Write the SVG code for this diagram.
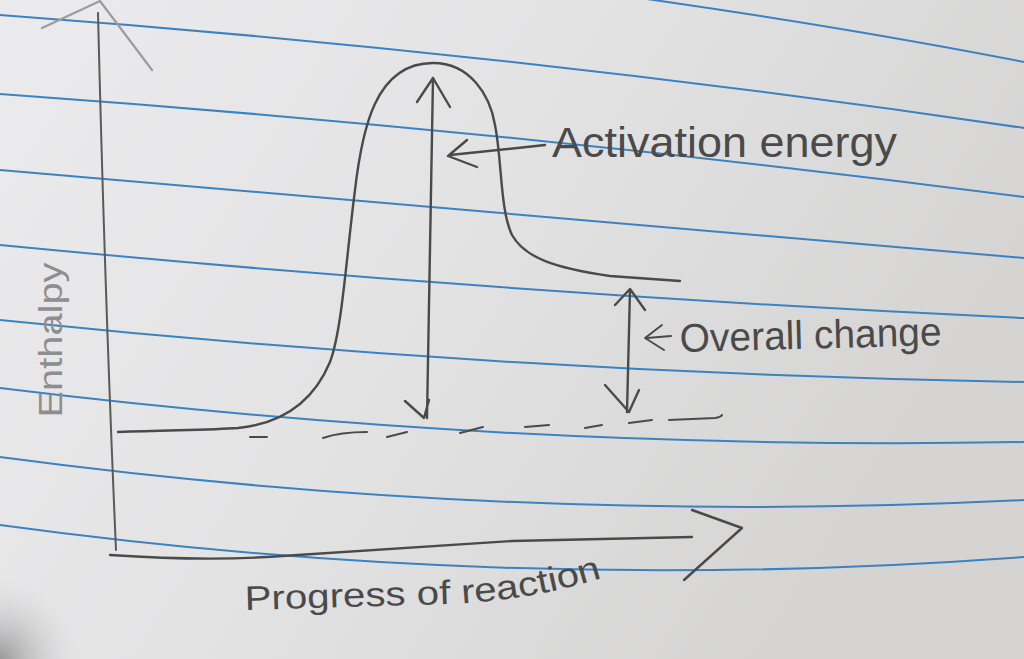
<svg xmlns="http://www.w3.org/2000/svg" width="1024" height="659" viewBox="0 0 1024 659">
<defs>
<linearGradient id="paper" x1="0" y1="0" x2="1" y2="0.4">
<stop offset="0" stop-color="#ebebed"/>
<stop offset="0.5" stop-color="#e3e3e4"/>
<stop offset="1" stop-color="#d5d4d3"/>
</linearGradient>
<radialGradient id="shadow" cx="0" cy="659" r="80" gradientUnits="userSpaceOnUse">
<stop offset="0" stop-color="#808081" stop-opacity="0.75"/>
<stop offset="0.5" stop-color="#a5a5a6" stop-opacity="0.35"/>
<stop offset="1" stop-color="#d0d0d0" stop-opacity="0"/>
</radialGradient>
<style>
.rule{fill:none;stroke:#3c82c2;stroke-width:2}
.pen{fill:none;stroke:#4a4a4a;stroke-width:2.4;stroke-linecap:round;stroke-linejoin:round}
.light{fill:none;stroke:#9c9c9e;stroke-width:2.2;stroke-linecap:round;stroke-linejoin:round}
.hand{font-family:"Liberation Sans","DejaVu Sans",sans-serif;fill:#4a4a4a}
</style>
</defs>
<rect width="1024" height="659" fill="url(#paper)"/>
<rect width="1024" height="659" fill="url(#shadow)"/>
<g id="rules">
<path class="rule" d="M640 -2 Q850 28 1024 62"/>
<path class="rule" d="M0 15 Q512 52.5 1024 128"/>
<path class="rule" d="M0 94 Q512 130.5 1024 197"/>
<path class="rule" d="M0 170 Q512 216 1024 258"/>
<path class="rule" d="M0 245 Q512 294.5 1024 318"/>
<path class="rule" d="M0 320 Q512 373 1024 382"/>
<path class="rule" d="M0 388 Q512 451 1024 442"/>
<path class="rule" d="M0 457 Q512 525.5 1024 500"/>
<path class="rule" d="M0 525 Q512 595 1024 557"/>
</g>
<g id="axes">
<path class="light" d="M42 28 L100 1 L152 70"/>
<path class="pen" style="stroke:#5a5a5a;stroke-width:2" d="M98 13 Q105 300 116 550"/>
<path class="pen" d="M110 555 Q200 561 267 557 Q400 548 512 541 L692 537"/>
<path class="pen" d="M692 510 L742 528 L684 580"/>
</g>
<g id="connectors">
<path id="curve" class="pen" d="M118 432 C170 430 210 430 238 428 C278 424 312 405 330 362 C342 330 346 260 355 190 C362 130 375 63 433 63 C470 63 490 95 495 125 C502 160 500 210 512 235 C525 258 555 268 610 276 L680 281"/>
<path id="dashes" class="pen" style="stroke-width:2" d="M250 437 L267 437 M323 438 Q340 432 367 432 M387 437 L407 432 M460 433 L483 427 M525 427 L549 425 M585 428 L602 425 M629 423 L652 420 M669 420 L715 418 Q721 417 722 415"/>
<path id="activation-arrow" class="pen" d="M433 78 L427 418 M417 102 L433 78 L450 107 M405 401 L424 418 L429 400"/>
<path id="activation-pointer" class="pen" d="M450 155 Q500 150 545 145 M467 140 L448 156 L477 167"/>
<path id="overall-arrow" class="pen" d="M630 290 L627 412 M615 305 L630 289 L645 310 M605 385 L629 412 L639 390"/>
<path id="overall-pointer" class="pen" style="stroke-width:2" d="M662 325 L645 338 L664 350 M647 338 L671 336"/>
</g>
<g id="label-activation">
<text class="hand" x="552" y="157" font-size="42" textLength="345" lengthAdjust="spacingAndGlyphs">Activation energy</text>
</g>
<g id="label-overall">
<text class="hand" x="680" y="352" font-size="40" textLength="262" lengthAdjust="spacingAndGlyphs" transform="rotate(-1.5 680 352)">Overall change</text>
</g>
<g id="label-enthalpy">
<text class="hand" style="fill:#8e8e90" x="62" y="340" font-size="34" text-anchor="middle" textLength="155" lengthAdjust="spacingAndGlyphs" transform="rotate(-90 62 340)">Enthalpy</text>
</g>
<g id="label-progress">
<path id="progPath" d="M245 610 L450 604 Q540 600 620 572" fill="none"/>
<text class="hand" font-size="34"><textPath href="#progPath" textLength="360" lengthAdjust="spacingAndGlyphs">Progress of reaction</textPath></text>
</g>
</svg>
